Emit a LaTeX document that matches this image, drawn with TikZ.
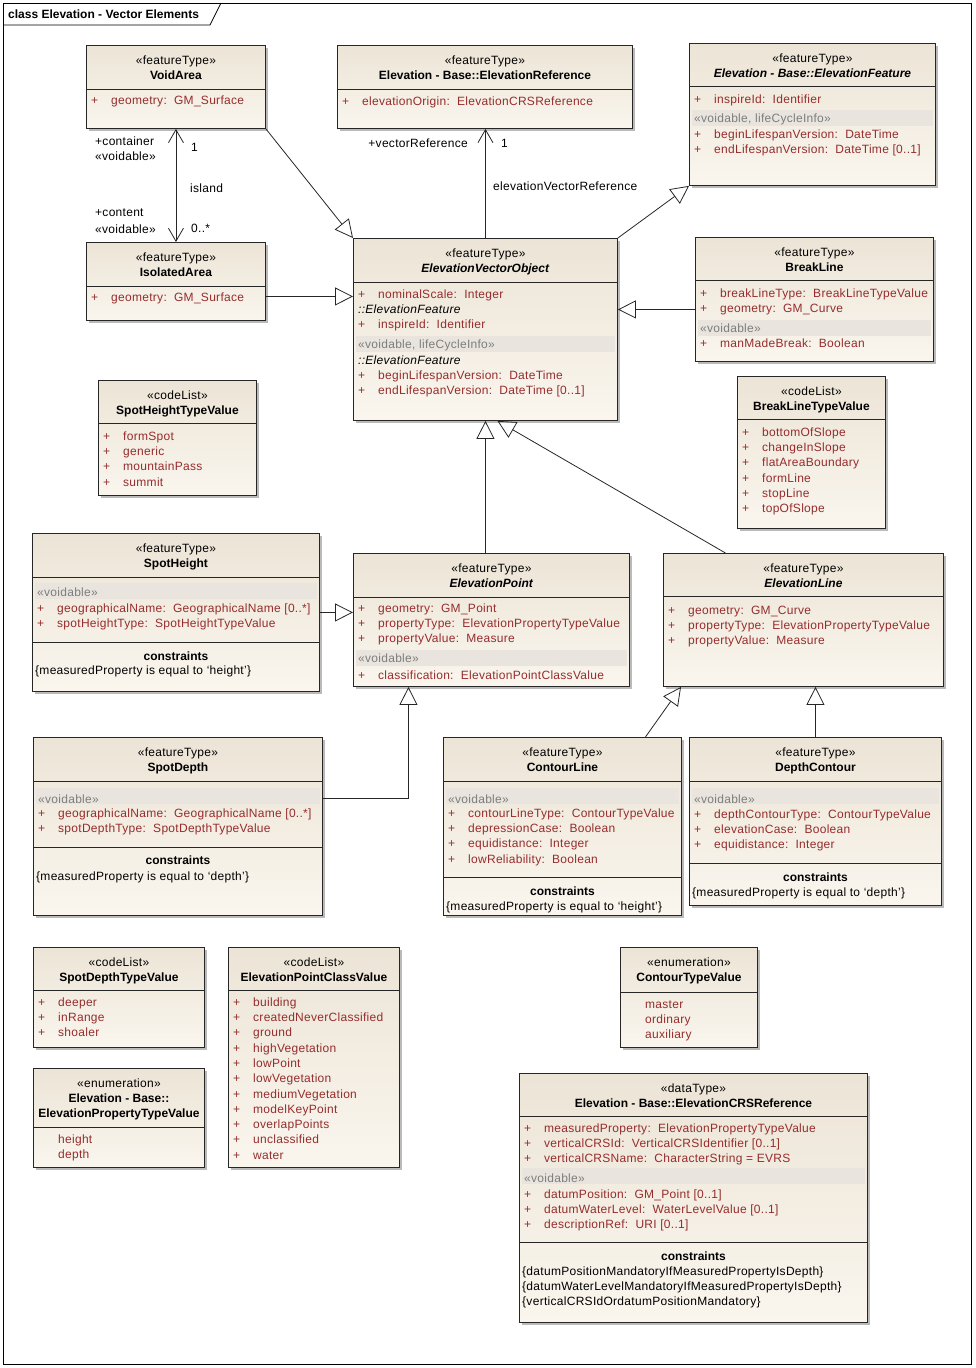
\documentclass[tikz,border=0pt]{standalone}
\usepackage{fontspec}
\setmainfont{Liberation Sans}[LetterSpace=2.4,BoldFeatures={LetterSpace=0},BoldItalicFeatures={LetterSpace=0}]
\usetikzlibrary{arrows.meta,shadows,positioning}

\definecolor{umltop}{RGB}{236,228,214}
\definecolor{umlbot}{RGB}{250,246,238}
\definecolor{umlband}{RGB}{233,229,222}
\definecolor{umlattr}{RGB}{150,45,45}
\definecolor{umlgrey}{RGB}{125,125,125}

\newcommand{\umlsize}{\fontsize{12}{15.3}\selectfont}
\newcommand{\stereo}[1]{\rule{0pt}{9pt}«#1»}
\newcommand{\attr}[1]{\rule{0pt}{9pt}\makebox[20pt][l]{+}#1}
\newcommand{\hsplit}[2]{\draw[split] (#1.west |- 0,#2) -- (#1.east |- 0,#2);}
\newcommand{\vband}[2]{\fill[umlband] ([xshift=3pt]#1.west |- 0,#2) rectangle ([xshift=-3pt]#1.east |- 0,#2+16);}

\tikzset{
  classbox/.style={draw=black!85, line width=0.9pt, top color=umltop, bottom color=umlbot,
    drop shadow={shadow xshift=3pt, shadow yshift=-3pt, fill=black!45, opacity=0.6},
    anchor=north west, inner sep=0pt},
  head/.style={anchor=north, align=center, inner sep=0pt, font=\umlsize},
  attrs/.style={anchor=north west, align=left, inner sep=0pt, font=\umlsize, text=umlattr},
  tag/.style={anchor=north west, inner sep=0pt, font=\umlsize, text=umlgrey},
  note/.style={anchor=north west, align=left, inner sep=0pt, font=\umlsize},
  lbl/.style={anchor=west, inner sep=0pt, font=\umlsize},
  split/.style={draw=black!85, line width=0.9pt},
  gen/.style={draw=black!85, line width=0.8pt, -{Triangle[open, length=18pt, width=18pt]}},
  nav/.style={draw=black!85, line width=0.8pt, -{Straight Barb[length=13pt, width=15pt]}},
  navboth/.style={draw=black!85, line width=0.8pt, {Straight Barb[length=13pt, width=15pt]}-{Straight Barb[length=13pt, width=15pt]}},
}

\begin{document}
\begin{tikzpicture}[x=1pt,y=-1pt]
  \useasboundingbox (0,0) rectangle (976,1368);

  % Frame
  \draw[line width=1pt] (3,3) rectangle (971,1364);
  \draw[line width=0.8pt] (3,25) -- (210,25) -- (221,3);
  \node[anchor=west, inner sep=0pt, font=\umlsize\bfseries] (title) at (8,14) {class Elevation - Vector Elements};

  % VoidArea
  \node[classbox, minimum width=179pt, minimum height=83pt] (va) at (86,45) {};
  \node[head] (va-h) at (va.north |- 0,55) {\stereo{featureType}\\\textbf{VoidArea}};
  \hsplit{va}{89}
  \node[attrs] (va-a) at (91,95) {\attr{geometry:\ \ GM\_Surface}};

  % IsolatedArea
  \node[classbox, minimum width=179pt, minimum height=78pt] (ia) at (86,242) {};
  \node[head] (ia-h) at (ia.north |- 0,252) {\stereo{featureType}\\\textbf{IsolatedArea}};
  \hsplit{ia}{286}
  \node[attrs] (ia-a) at (91,292) {\attr{geometry:\ \ GM\_Surface}};

  % ElevationReference
  \node[classbox, minimum width=295pt, minimum height=83pt] (eref) at (337,45) {};
  \node[head] (eref-h) at (eref.north |- 0,55) {\stereo{featureType}\\\textbf{Elevation - Base::ElevationReference}};
  \hsplit{eref}{89}
  \node[attrs] (eref-a) at (342,96) {\attr{elevationOrigin:\ \ ElevationCRSReference}};

  % ElevationFeature
  \node[classbox, minimum width=246pt, minimum height=142pt] (ef) at (689,43) {};
  \node[head] (ef-h) at (ef.north |- 0,53) {\stereo{featureType}\\\textbf{\textit{Elevation - Base::ElevationFeature}}};
  \hsplit{ef}{86}
  \node[attrs] (ef-a) at (694,94) {\attr{inspireId:\ \ Identifier}};
  \vband{ef}{110}
  \node[tag] (ef-t) at (694,113) {\stereo{voidable, lifeCycleInfo}};
  \node[attrs] (ef-b) at (694,129) {\attr{beginLifespanVersion:\ \ DateTime}\\
    \attr{endLifespanVersion:\ \ DateTime [0..1]}};

  % ElevationVectorObject
  \node[classbox, minimum width=264pt, minimum height=182pt] (evo) at (353,238) {};
  \node[head] (evo-h) at (evo.north |- 0,248) {\stereo{featureType}\\\textbf{\textit{ElevationVectorObject}}};
  \hsplit{evo}{282}
  \node[attrs] (evo-a) at (358,289) {\attr{nominalScale:\ \ Integer}\\
    \rule{0pt}{9pt}{\color{black}\itshape ::ElevationFeature}\\
    \attr{inspireId:\ \ Identifier}};
  \vband{evo}{336}
  \node[tag] (evo-t) at (358,339) {\stereo{voidable, lifeCycleInfo}};
  \node[attrs] (evo-b) at (358,355) {\rule{0pt}{9pt}{\color{black}\itshape ::ElevationFeature}\\
    \attr{beginLifespanVersion:\ \ DateTime}\\
    \attr{endLifespanVersion:\ \ DateTime [0..1]}};

  % BreakLine
  \node[classbox, minimum width=238pt, minimum height=124pt] (bl) at (695,237) {};
  \node[head] (bl-h) at (bl.north |- 0,247) {\stereo{featureType}\\\textbf{BreakLine}};
  \hsplit{bl}{280}
  \node[attrs] (bl-a) at (700,288) {\attr{breakLineType:\ \ BreakLineTypeValue}\\
    \attr{geometry:\ \ GM\_Curve}};
  \vband{bl}{320}
  \node[tag] (bl-t) at (700,323) {\stereo{voidable}};
  \node[attrs] (bl-b) at (700,338) {\attr{manMadeBreak:\ \ Boolean}};

  % BreakLineTypeValue
  \node[classbox, minimum width=148pt, minimum height=152pt] (bltv) at (737,376) {};
  \node[head] (bltv-h) at (bltv.north |- 0,386) {\stereo{codeList}\\\textbf{BreakLineTypeValue}};
  \hsplit{bltv}{419}
  \node[attrs] (bltv-a) at (742,427) {\attr{bottomOfSlope}\\\attr{changeInSlope}\\
    \attr{flatAreaBoundary}\\\attr{formLine}\\\attr{stopLine}\\\attr{topOfSlope}};

  % SpotHeightTypeValue
  \node[classbox, minimum width=158pt, minimum height=115pt] (shtv) at (98,380) {};
  \node[head] (shtv-h) at (shtv.north |- 0,390) {\stereo{codeList}\\\textbf{SpotHeightTypeValue}};
  \hsplit{shtv}{423}
  \node[attrs] (shtv-a) at (103,431) {\attr{formSpot}\\\attr{generic}\\
    \attr{mountainPass}\\\attr{summit}};

  % SpotHeight
  \node[classbox, minimum width=287pt, minimum height=158pt] (sh) at (32,533) {};
  \node[head] (sh-h) at (sh.north |- 0,543) {\stereo{featureType}\\\textbf{SpotHeight}};
  \hsplit{sh}{577}
  \vband{sh}{583}
  \node[tag] (sh-t) at (37,587) {\stereo{voidable}};
  \node[attrs] (sh-a) at (37,603) {\attr{geographicalName:\ \ GeographicalName [0..*]}\\
    \attr{spotHeightType:\ \ SpotHeightTypeValue}};
  \hsplit{sh}{642}
  \node[head] (sh-c) at (sh.north |- 0,651) {\rule{0pt}{9pt}\textbf{constraints}};
  \node[note] (sh-n) at (35,665) {\rule{0pt}{9pt}\{measuredProperty is equal to `height'\}};

  % ElevationPoint
  \node[classbox, minimum width=276pt, minimum height=133pt] (ep) at (353,553) {};
  \node[head] (ep-h) at (ep.north |- 0,563) {\stereo{featureType}\\\textbf{\textit{ElevationPoint}}};
  \hsplit{ep}{597}
  \node[attrs] (ep-a) at (358,603) {\attr{geometry:\ \ GM\_Point}\\
    \attr{propertyType:\ \ ElevationPropertyTypeValue}\\
    \attr{propertyValue:\ \ Measure}};
  \vband{ep}{650}
  \node[tag] (ep-t) at (358,653) {\stereo{voidable}};
  \node[attrs] (ep-b) at (358,670) {\attr{classification:\ \ ElevationPointClassValue}};

  % ElevationLine
  \node[classbox, minimum width=280pt, minimum height=133pt] (el) at (663,553) {};
  \node[head] (el-h) at (el.north |- 0,563) {\stereo{featureType}\\\textbf{\textit{ElevationLine}}};
  \hsplit{el}{596}
  \node[attrs] (el-a) at (668,605) {\attr{geometry:\ \ GM\_Curve}\\
    \attr{propertyType:\ \ ElevationPropertyTypeValue}\\
    \attr{propertyValue:\ \ Measure}};

  % SpotDepth
  \node[classbox, minimum width=289pt, minimum height=178pt] (sd) at (33,737) {};
  \node[head] (sd-h) at (sd.north |- 0,747) {\stereo{featureType}\\\textbf{SpotDepth}};
  \hsplit{sd}{781}
  \vband{sd}{788}
  \node[tag] (sd-t) at (38,794) {\stereo{voidable}};
  \node[attrs] (sd-a) at (38,808) {\attr{geographicalName:\ \ GeographicalName [0..*]}\\
    \attr{spotDepthType:\ \ SpotDepthTypeValue}};
  \hsplit{sd}{847}
  \node[head] (sd-c) at (sd.north |- 0,855) {\rule{0pt}{9pt}\textbf{constraints}};
  \node[note] (sd-n) at (36,871) {\rule{0pt}{9pt}\{measuredProperty is equal to `depth'\}};

  % ContourLine
  \node[classbox, minimum width=238pt, minimum height=178pt] (cl) at (443,737) {};
  \node[head] (cl-h) at (cl.north |- 0,747) {\stereo{featureType}\\\textbf{ContourLine}};
  \hsplit{cl}{781}
  \vband{cl}{788}
  \node[tag] (cl-t) at (448,794) {\stereo{voidable}};
  \node[attrs] (cl-a) at (448,808) {\attr{contourLineType:\ \ ContourTypeValue}\\
    \attr{depressionCase:\ \ Boolean}\\
    \attr{equidistance:\ \ Integer}\\
    \attr{lowReliability:\ \ Boolean}};
  \hsplit{cl}{877}
  \node[head] (cl-c) at (cl.north |- 0,886) {\rule{0pt}{9pt}\textbf{constraints}};
  \node[note] (cl-n) at (446,901) {\rule{0pt}{9pt}\{measuredProperty is equal to `height'\}};

  % DepthContour
  \node[classbox, minimum width=252pt, minimum height=168pt] (dc) at (689,737) {};
  \node[head] (dc-h) at (dc.north |- 0,747) {\stereo{featureType}\\\textbf{DepthContour}};
  \hsplit{dc}{781}
  \vband{dc}{788}
  \node[tag] (dc-t) at (694,794) {\stereo{voidable}};
  \node[attrs] (dc-a) at (694,809) {\attr{depthContourType:\ \ ContourTypeValue}\\
    \attr{elevationCase:\ \ Boolean}\\
    \attr{equidistance:\ \ Integer}};
  \hsplit{dc}{863}
  \node[head] (dc-c) at (dc.north |- 0,872) {\rule{0pt}{9pt}\textbf{constraints}};
  \node[note] (dc-n) at (692,887) {\rule{0pt}{9pt}\{measuredProperty is equal to `depth'\}};

  % SpotDepthTypeValue
  \node[classbox, minimum width=171pt, minimum height=100pt] (sdtv) at (33,947) {};
  \node[head] (sdtv-h) at (sdtv.north |- 0,957) {\stereo{codeList}\\\textbf{SpotDepthTypeValue}};
  \hsplit{sdtv}{990}
  \node[attrs] (sdtv-a) at (38,997) {\attr{deeper}\\\attr{inRange}\\\attr{shoaler}};

  % ElevationPropertyTypeValue
  \node[classbox, minimum width=171pt, minimum height=99pt] (eptv) at (33,1068) {};
  \node[head] (eptv-h) at (eptv.north |- 0,1078) {\stereo{enumeration}\\\textbf{Elevation - Base::}\\\textbf{ElevationPropertyTypeValue}};
  \hsplit{eptv}{1127}
  \node[attrs] (eptv-a) at (58,1134) {\rule{0pt}{9pt}height\\depth};

  % ElevationPointClassValue
  \node[classbox, minimum width=171pt, minimum height=220pt] (epcv) at (228,947) {};
  \node[head] (epcv-h) at (epcv.north |- 0,957) {\stereo{codeList}\\\textbf{ElevationPointClassValue}};
  \hsplit{epcv}{990}
  \node[attrs] (epcv-a) at (233,997) {\attr{building}\\\attr{createdNeverClassified}\\
    \attr{ground}\\\attr{highVegetation}\\\attr{lowPoint}\\\attr{lowVegetation}\\
    \attr{mediumVegetation}\\\attr{modelKeyPoint}\\\attr{overlapPoints}\\
    \attr{unclassified}\\\attr{water}};

  % ContourTypeValue
  \node[classbox, minimum width=137pt, minimum height=100pt] (ctv) at (620,947) {};
  \node[head] (ctv-h) at (ctv.north |- 0,957) {\stereo{enumeration}\\\textbf{ContourTypeValue}};
  \hsplit{ctv}{992}
  \node[attrs] (ctv-a) at (645,999) {\rule{0pt}{9pt}master\\ordinary\\auxiliary};

  % ElevationCRSReference
  \node[classbox, minimum width=348pt, minimum height=249pt] (crs) at (519,1073) {};
  \node[head] (crs-h) at (crs.north |- 0,1083) {\stereo{dataType}\\\textbf{Elevation - Base::ElevationCRSReference}};
  \hsplit{crs}{1116}
  \node[attrs] (crs-a) at (524,1123) {\attr{measuredProperty:\ \ ElevationPropertyTypeValue}\\
    \attr{verticalCRSId:\ \ VerticalCRSIdentifier [0..1]}\\
    \attr{verticalCRSName:\ \ CharacterString = EVRS}};
  \vband{crs}{1168}
  \node[tag] (crs-t) at (524,1173) {\stereo{voidable}};
  \node[attrs] (crs-b) at (524,1189) {\attr{datumPosition:\ \ GM\_Point [0..1]}\\
    \attr{datumWaterLevel:\ \ WaterLevelValue [0..1]}\\
    \attr{descriptionRef:\ \ URI [0..1]}};
  \hsplit{crs}{1242}
  \node[head] (crs-c) at (crs.north |- 0,1251) {\rule{0pt}{9pt}\textbf{constraints}};
  \node[note] (crs-n) at (522,1266) {\rule{0pt}{9pt}\{datumPositionMandatoryIfMeasuredPropertyIsDepth\}\\
    \{datumWaterLevelMandatoryIfMeasuredPropertyIsDepth\}\\
    \{verticalCRSIdOrdatumPositionMandatory\}};

  % island association
  \draw[navboth] (va.south) -- (ia.north);
  \node[lbl] (l-cont) at (95,141) {+container};
  \node[lbl] (l-cont-v) at (95,156) {«voidable»};
  \node[lbl] (l-one) at (191,147) {1};
  \node[lbl] (l-island) at (190,188) {island};
  \node[lbl] (l-content) at (95,213) {+content};
  \node[lbl] (l-content-v) at (95,229) {«voidable»};
  \node[lbl] (l-many) at (191,228) {0..*};

  % elevationVectorReference association
  \draw[nav] (evo.north) -- (evo.north |- eref.south);
  \node[lbl, anchor=east] (l-vref) at (468,143) {+vectorReference};
  \node[lbl] (l-vone) at (501,143) {1};
  \node[lbl] (l-evref) at (493,186) {elevationVectorReference};

  % Generalisations
  \draw[gen] (va.south east) -- (evo.north west);
  \draw[gen] ([yshift=-15pt]ia.east) -- ([yshift=-15pt]ia.east -| evo.west);
  \draw[gen] (evo.north east) -- (ef.south west);
  \draw[gen] ([yshift=-10pt]bl.west) -- ([yshift=-10pt]bl.west -| evo.east);
  \draw[gen] (evo.south |- ep.north) -- (evo.south);
  \draw[gen] ([xshift=-78pt]el.north) -- ([xshift=12pt]evo.south);
  \draw[gen] (sh.east) -- (sh.east -| ep.west);
  \draw[gen] ([yshift=28pt]sd.east) -| ([xshift=-83pt]ep.south);
  \draw[gen] ([xshift=83pt]cl.north) -- ([xshift=18pt]el.south west);
  \draw[gen] (dc.north) -- (dc.north |- el.south);
\end{tikzpicture}
\end{document}
